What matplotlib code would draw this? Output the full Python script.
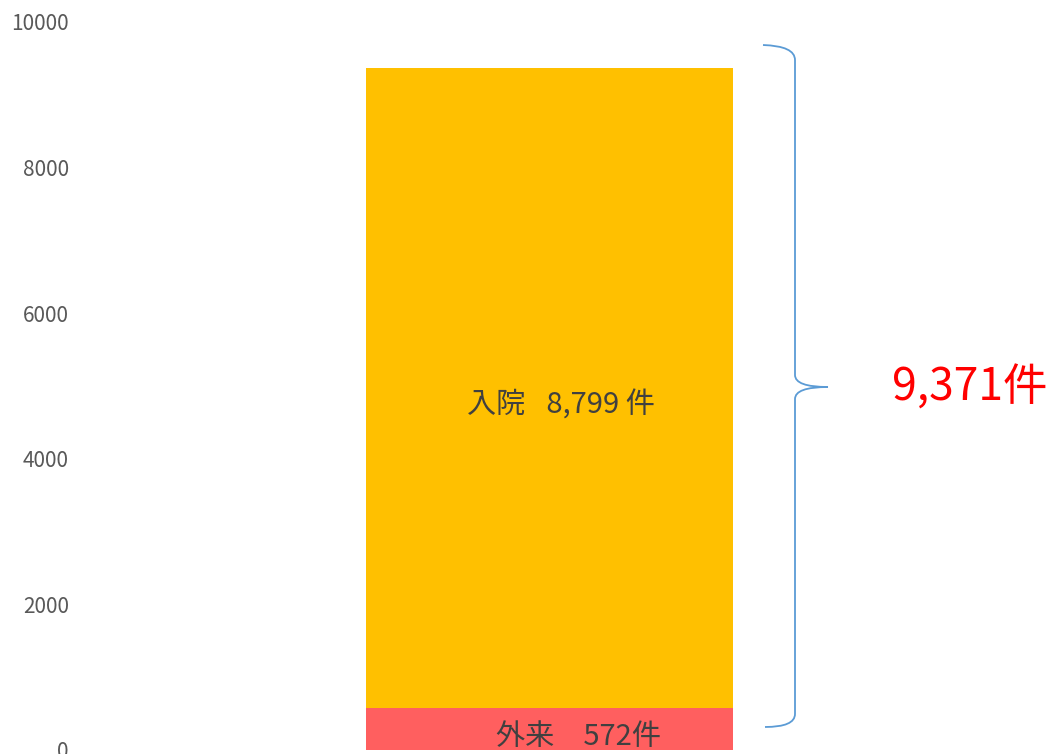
import matplotlib
matplotlib.use("Agg")
import matplotlib.pyplot as plt
from matplotlib.path import Path
from matplotlib.patches import PathPatch

plt.rcParams['font.family'] = ['Noto Sans CJK JP', 'DejaVu Sans']

# Data
categories = ['外来', '入院']
values = [572, 8799]
colors = ['#FF5F5F', '#FFC000']
label_fmt = ['{name}\u3000{v:,}件', '{name}\u2002 {v:,} 件']
yticks = [0, 2000, 4000, 6000, 8000, 10000]
total = sum(values)

W, H = 1051, 754
fig = plt.figure(figsize=(W / 100, H / 100), dpi=100)
ax_left, ax_right = 80, 1020
y0_px, ytop_px = 750, 22
ax = fig.add_axes([ax_left / W, (H - y0_px) / H, (ax_right - ax_left) / W, (y0_px - ytop_px) / H])

# bar from x=366 to 733 px
ppu = 367.0
a = -(549.5 - ax_left) / ppu
b = a + (ax_right - ax_left) / ppu
ax.set_xlim(a, b)
ax.set_ylim(0, 10000)

bottom = 0
for name, v, c in zip(categories, values, colors):
    ax.bar(0, v, width=1.0, bottom=bottom, color=c, edgecolor='none')
    bottom += v

# labels inside bars
ax.text(0.08, values[0] / 2 - 110, label_fmt[0].format(name=categories[0], v=values[0]),
        ha='center', va='center', fontsize=21, color='#404040')
ax.text(0.03, values[0] + values[1] * 0.473, label_fmt[1].format(name=categories[1], v=values[1]),
        ha='center', va='center', fontsize=21, color='#404040')

ax.set_yticks(yticks)
ax.set_yticklabels([str(t) for t in yticks])
ax.tick_params(axis='y', length=0, pad=8, labelsize=15, labelcolor='#595959')
ax.set_xticks([])
for s in ax.spines.values():
    s.set_visible(False)

# curly brace in figure pixel coordinates
def P(x, y):
    return (x / W, 1 - y / H)

verts = [P(763, 45), P(795, 46), P(795, 60),
         P(795, 375),
         P(795, 387), P(828, 387),
         P(795, 387), P(795, 399),
         P(795, 714),
         P(795, 727), P(765, 727)]
codes = [Path.MOVETO, Path.CURVE3, Path.CURVE3,
         Path.LINETO,
         Path.CURVE3, Path.CURVE3,
         Path.CURVE3, Path.CURVE3,
         Path.LINETO,
         Path.CURVE3, Path.CURVE3]
brace = PathPatch(Path(verts, codes), transform=fig.transFigure, fill=False,
                  edgecolor='#5B9BD5', linewidth=1.3)
fig.add_artist(brace)

fig.text(970 / W, 1 - 388 / H, f'{total:,}件', ha='center', va='center',
         fontsize=32, color='#FF0000')

fig.savefig('out.png', dpi=100)
